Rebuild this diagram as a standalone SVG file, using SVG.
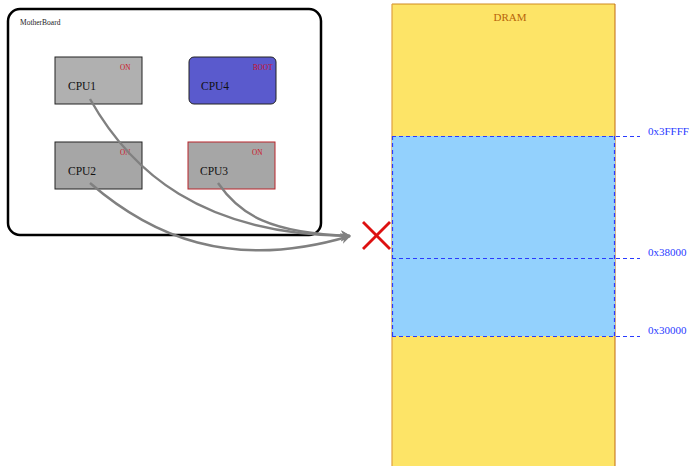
<svg xmlns="http://www.w3.org/2000/svg" width="691" height="466" viewBox="0 0 691 466">
  <style>
    text { font-family: "Liberation Serif", "Times New Roman", serif; }
    .cpu-label { font-size: 11.5px; fill: #111; }
    .state { font-size: 7.2px; fill: #cc1122; }
    .addr { font-size: 11px; fill: #2a3bff; }
    .wire { fill: none; stroke: #808080; stroke-width: 2.4; }
    .dash { fill: none; stroke: #2a3bff; stroke-width: 1.2; stroke-dasharray: 4 3; }
  </style>
  <defs>
    <marker id="arrow" markerWidth="12" markerHeight="12" refX="9" refY="6" orient="auto" markerUnits="userSpaceOnUse">
      <path d="M0,0.5 L10,6 L0,11.5 L3,6 Z" fill="#808080"/>
    </marker>
  </defs>

  <rect width="691" height="466" fill="#ffffff"/>

  <!-- memory column -->
  <g id="dram">
    <rect x="392" y="4" width="223" height="470" fill="#fde467"/>
    <line x1="392" y1="4" x2="615" y2="4" stroke="#d08a20" stroke-width="1"/>
    <line x1="392" y1="4" x2="392" y2="466" stroke="#e0a040" stroke-width="1.2"/>
    <line x1="615" y1="4" x2="615" y2="466" stroke="#c06a10" stroke-width="1"/>
    <text x="510" y="21" text-anchor="middle" font-size="11" fill="#b8650a">DRAM</text>
  </g>

  <g id="region">
    <rect x="392" y="136" width="223" height="200" fill="#93d1fd"/>
    <line class="dash" x1="392" y1="136.5" x2="640" y2="136.5"/>
    <line class="dash" x1="392" y1="258.5" x2="640" y2="258.5"/>
    <line class="dash" x1="392" y1="336.5" x2="640" y2="336.5"/>
    <line class="dash" x1="392.5" y1="136" x2="392.5" y2="336"/>
    <line class="dash" x1="614.5" y1="136" x2="614.5" y2="336"/>
    <text class="addr" x="648" y="135">0x3FFFF</text>
    <text class="addr" x="648" y="256">0x38000</text>
    <text class="addr" x="648" y="334">0x30000</text>
  </g>

  <!-- board -->
  <g id="motherboard">
    <rect x="8" y="9" width="313" height="226" rx="12" fill="#ffffff" stroke="#000" stroke-width="2.5"/>
    <text x="20" y="25" font-size="7.5" fill="#222">MotherBoard</text>
  </g>

  <g id="cpu1">
    <rect x="55" y="57" width="87" height="47" fill="#b0b0b0" stroke="#222" stroke-width="1"/>
    <text class="state" x="120" y="70">ON</text>
    <text class="cpu-label" x="68" y="90">CPU1</text>
  </g>

  <g id="cpu4">
    <rect x="189" y="57" width="87" height="47" rx="5" fill="#5a5acd" stroke="#222" stroke-width="1"/>
    <text class="state" x="253" y="70">BOOT</text>
    <text class="cpu-label" x="201" y="90">CPU4</text>
  </g>

  <g id="cpu2">
    <rect x="55" y="142" width="87" height="47" fill="#a6a6a6" stroke="#222" stroke-width="1"/>
    <text class="state" x="120" y="155">ON</text>
    <text class="cpu-label" x="68" y="175">CPU2</text>
  </g>

  <g id="cpu3">
    <rect x="188" y="142" width="87" height="47" fill="#a6a6a6" stroke="#b8252a" stroke-width="1"/>
    <text class="state" x="252" y="155">ON</text>
    <text class="cpu-label" x="200" y="175">CPU3</text>
  </g>

  <g id="connectors">
    <path class="wire" d="M90,99 C130,170 200,235 350,236" marker-end="url(#arrow)"/>
    <path class="wire" d="M218,183 C240,215 270,233 350,236" marker-end="url(#arrow)"/>
    <path class="wire" d="M90,183 C150,235 230,272 350,236" marker-end="url(#arrow)"/>
  </g>

  <!-- blocked access -->
  <g id="blocked">
    <line x1="363" y1="222" x2="390" y2="249" stroke="#dd1111" stroke-width="2.8"/>
    <line x1="390" y1="222" x2="363" y2="249" stroke="#dd1111" stroke-width="2.8"/>
  </g>
</svg>
